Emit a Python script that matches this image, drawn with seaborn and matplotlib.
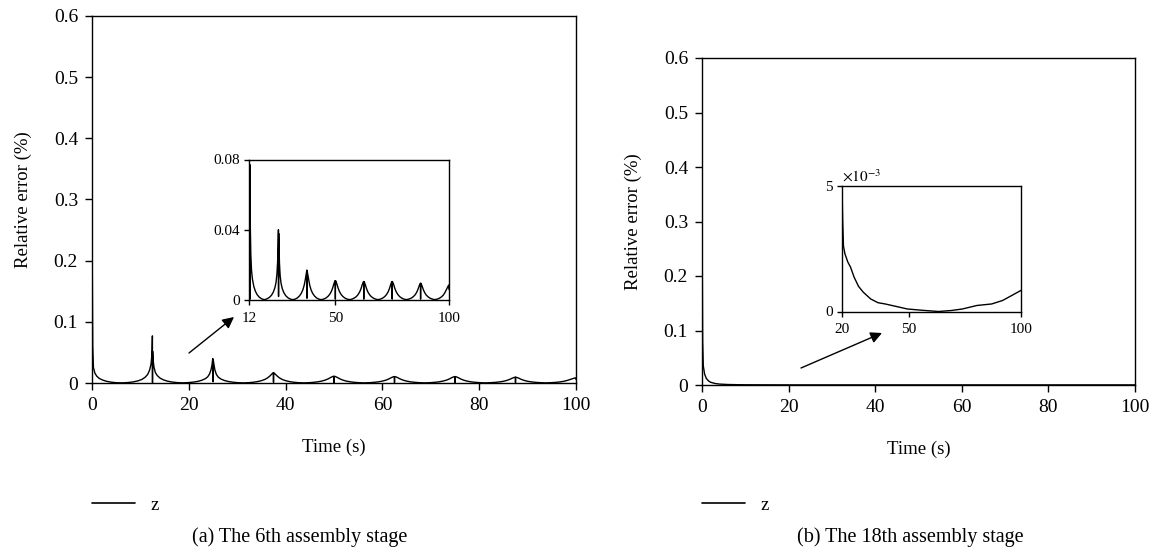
import matplotlib
matplotlib.use("Agg")
import matplotlib.pyplot as plt
import seaborn as sns
import pandas as pd

# ---- (a) 6th assembly stage: relative error of z over time ----
stage6_time = [
    0, 0.05, 0.15, 0.3, 0.6, 1.0, 1.5, 2.2, 3.0, 4.0, 5.0, 6.25, 7.5, 8.5, 9.5, 10.3, 11.0, 11.5, 11.9, 12.2, 12.4, 12.48,
    12.5, 12.52, 12.6, 12.8, 13.1, 13.5, 14.1, 14.8, 15.6, 16.6, 17.7, 18.75,
    19.8, 20.9, 21.9, 22.7, 23.4, 23.9, 24.3, 24.6, 24.8, 24.95,
    25.0, 25.05, 25.2, 25.4, 25.7, 26.1, 26.7, 27.4, 28.2, 29.2, 30.2, 31.25,
    32.3, 33.3, 34.2, 35.0, 35.7, 36.3, 36.8, 37.2, 37.45,
    37.5, 37.55, 37.8, 38.2, 38.7, 39.3, 40.0, 40.8, 41.7, 42.7, 43.75,
    44.8, 45.8, 46.7, 47.5, 48.2, 48.8, 49.3, 49.7, 49.95,
    50.0, 50.05, 50.3, 50.7, 51.2, 51.8, 52.5, 53.3, 54.2, 55.2, 56.25,
    57.3, 58.3, 59.2, 60.0, 60.7, 61.3, 61.8, 62.2, 62.45,
    62.5, 62.55, 62.8, 63.2, 63.7, 64.3, 65.0, 65.8, 66.7, 67.7, 68.75,
    69.8, 70.8, 71.7, 72.5, 73.2, 73.8, 74.3, 74.7, 74.95,
    75.0, 75.05, 75.3, 75.7, 76.2, 76.8, 77.5, 78.3, 79.2, 80.2, 81.25,
    82.3, 83.3, 84.2, 85.0, 85.7, 86.3, 86.8, 87.2, 87.45,
    87.5, 87.55, 87.8, 88.2, 88.7, 89.3, 90.0, 90.8, 91.7, 92.7, 93.75,
    94.8, 95.8, 96.7, 97.5, 98.2, 98.8, 99.3, 99.7, 99.85, 100.0,
]
stage6_error = [
    0.550, 0.200, 0.060, 0.025, 0.016, 0.011, 0.0075, 0.0048, 0.0028, 0.0013, 0.0005, 0.0002, 0.0008, 0.0018, 0.0035, 0.0058, 0.0095, 0.0140, 0.0210, 0.0310, 0.0480, 0.0770,
    0.0005, 0.0520, 0.0400, 0.0260, 0.0170, 0.0120, 0.0078, 0.0050, 0.0030, 0.0015, 0.0006, 0.0002,
    0.0006, 0.0014, 0.0027, 0.0045, 0.0070, 0.0100, 0.0150, 0.0220, 0.0300, 0.0400,
    0.0020, 0.0380, 0.0300, 0.0210, 0.0140, 0.0095, 0.0062, 0.0040, 0.0024, 0.0012, 0.0005, 0.0002,
    0.0005, 0.0012, 0.0023, 0.0038, 0.0058, 0.0085, 0.0118, 0.0150, 0.0170,
    0.0010, 0.0168, 0.0150, 0.0118, 0.0085, 0.0058, 0.0038, 0.0023, 0.0012, 0.0005, 0.0002,
    0.0005, 0.0011, 0.0020, 0.0032, 0.0048, 0.0068, 0.0090, 0.0105, 0.0110,
    0.0005, 0.0110, 0.0105, 0.0090, 0.0068, 0.0048, 0.0032, 0.0020, 0.0011, 0.0005, 0.0002,
    0.0005, 0.0011, 0.0019, 0.0031, 0.0046, 0.0065, 0.0086, 0.0100, 0.0105,
    0.0005, 0.0105, 0.0100, 0.0086, 0.0065, 0.0046, 0.0031, 0.0019, 0.0011, 0.0005, 0.0002,
    0.0005, 0.0011, 0.0019, 0.0031, 0.0046, 0.0065, 0.0086, 0.0100, 0.0105,
    0.0005, 0.0105, 0.0100, 0.0086, 0.0065, 0.0046, 0.0031, 0.0019, 0.0011, 0.0005, 0.0002,
    0.0005, 0.0010, 0.0018, 0.0028, 0.0042, 0.0059, 0.0078, 0.0090, 0.0095,
    0.0005, 0.0095, 0.0090, 0.0078, 0.0059, 0.0042, 0.0028, 0.0018, 0.0010, 0.0005, 0.0002,
    0.0005, 0.0010, 0.0018, 0.0028, 0.0042, 0.0058, 0.0072, 0.0082, 0.0085, 0.0060,
]

# ---- (b) 18th assembly stage: full run ----
stage18_time = [0, 0.05, 0.15, 0.3, 0.6, 1.0, 1.5, 2.0, 3.0, 4.0, 6.0, 8.0, 10.0, 15.0, 20.0,
                30.0, 40.0, 50.0, 60.0, 70.0, 80.0, 90.0, 100.0]
stage18_error = [0.550, 0.250, 0.080, 0.035, 0.020, 0.012, 0.0075, 0.0050, 0.0028, 0.0017, 0.0009, 0.0006,
                 0.0004, 0.0003, 0.0002, 0.0002, 0.0002, 0.0002, 0.0002, 0.0002, 0.0002, 0.0002, 0.0002]

# ---- (b) zoomed view of the late interval ----
stage18_zoom_time = [20.0, 20.3, 20.66, 21.3, 22.6, 23.8, 25.4, 27.4, 29.5, 32.8, 36.1, 39.3, 44.3, 49.2,
                     55.7, 63.1, 68.9, 73.8, 80.3, 86.9, 91.8, 95.9, 100.0]
stage18_zoom_error = [0.00496, 0.0036, 0.0026, 0.0023, 0.00197, 0.00177, 0.00137, 0.00100, 0.00077, 0.00050,
                      0.00035, 0.00030, 0.00020, 0.00010, 0.00005, 0.0, 0.00004, 0.00010, 0.00024, 0.00030,
                      0.00044, 0.00064, 0.00084]

main_yticks = [0, 0.1, 0.2, 0.3, 0.4, 0.5, 0.6]
main_yticklabels = ["0", "0.1", "0.2", "0.3", "0.4", "0.5", "0.6"]
main_xticks = [0, 20, 40, 60, 80, 100]

inset6_xticks = [12, 50, 100]
inset6_yticks = [0, 0.04, 0.08]
inset6_yticklabels = ["0", "0.04", "0.08"]

inset18_xticks = [20, 50, 100]
inset18_yticks = [0, 0.005]
inset18_yticklabels = ["0", "5"]

captions = ["(a) The 6th assembly stage", "(b) The 18th assembly stage"]
series_name = "z"

sns.set_theme(style="ticks")
plt.rcParams["font.family"] = ["Liberation Serif", "DejaVu Serif"]
plt.rcParams["mathtext.fontset"] = "stix"
plt.rcParams["axes.linewidth"] = 1.0
plt.rcParams["axes.edgecolor"] = "black"
plt.rcParams["xtick.color"] = "black"
plt.rcParams["ytick.color"] = "black"
plt.rcParams["text.color"] = "black"
plt.rcParams["axes.labelcolor"] = "black"

W, H = 1156, 550
fig = plt.figure(figsize=(W / 100, H / 100), dpi=100)


def px_rect(x0, y0, x1, y1):
    return [x0 / W, 1 - y1 / H, (x1 - x0) / W, (y1 - y0) / H]


df6 = pd.DataFrame({"Time (s)": stage6_time, "err": stage6_error, "series": series_name})
df18 = pd.DataFrame({"Time (s)": stage18_time, "err": stage18_error, "series": series_name})
df18z = pd.DataFrame({"Time (s)": stage18_zoom_time, "err": stage18_zoom_error})

TICK_FS = 14
LABEL_FS = 13.5
INSET_FS = 11
LEGEND_Y = 505  # pixel row of the legend entries


def style_main(ax, top_px, bottom_px):
    ax.set_xlim(0, 100)
    ax.set_ylim(0, 0.6)
    ax.set_xticks(main_xticks)
    ax.set_xticklabels([str(v) for v in main_xticks])
    ax.set_yticks(main_yticks)
    ax.set_yticklabels(main_yticklabels)
    ax.tick_params(direction="out", length=5, width=1.0, labelsize=TICK_FS, pad=5)
    ax.set_xlabel("Time (s)", fontsize=LABEL_FS, labelpad=18)
    ax.set_ylabel("Relative error (%)", fontsize=LABEL_FS, labelpad=16)
    for s in ax.spines.values():
        s.set_visible(True)
        s.set_linewidth(1.0)
    y_axes = (bottom_px - LEGEND_Y) / (bottom_px - top_px)
    leg = ax.legend(loc="center left", bbox_to_anchor=(0.0, y_axes), frameon=False,
                    fontsize=LABEL_FS, handlelength=2.3, handletextpad=0.8,
                    borderpad=0, borderaxespad=0)
    for h in leg.get_lines():
        h.set_linewidth(1.2)


def style_inset(ax):
    ax.tick_params(direction="out", length=3.5, width=1.0, labelsize=INSET_FS, pad=3)
    ax.xaxis.set_tick_params(pad=5)
    for s in ax.spines.values():
        s.set_visible(True)
        s.set_linewidth(1.0)
    ax.set_xlabel("")
    ax.set_ylabel("")
    if ax.get_legend() is not None:
        ax.get_legend().remove()


# Panel (a)
ax1 = fig.add_axes(px_rect(92, 16, 576, 383))
sns.lineplot(data=df6, x="Time (s)", y="err", hue="series", palette=["black"],
             linewidth=1.0, ax=ax1, estimator=None, sort=False)
style_main(ax1, 16, 383)

ins1 = fig.add_axes(px_rect(249, 159.5, 449, 300))
sel6 = df6[df6["Time (s)"] >= 12]
sns.lineplot(data=sel6, x="Time (s)", y="err", color="black", linewidth=1.0,
             ax=ins1, estimator=None, sort=False)
ins1.set_xlim(12, 100)
ins1.set_ylim(0, 0.08)
ins1.set_xticks(inset6_xticks)
ins1.set_xticklabels([str(v) for v in inset6_xticks])
ins1.set_yticks(inset6_yticks)
ins1.set_yticklabels(inset6_yticklabels)
style_inset(ins1)

ax1.annotate("", xy=(234, H - 317), xycoords="figure pixels",
             xytext=(189, H - 353), textcoords="figure pixels",
             arrowprops=dict(arrowstyle="-|>", color="black", lw=1.0, mutation_scale=17,
                             shrinkA=0, shrinkB=0))

# Panel (b)
ax2 = fig.add_axes(px_rect(702, 58, 1135, 385))
sns.lineplot(data=df18, x="Time (s)", y="err", hue="series", palette=["black"],
             linewidth=1.0, ax=ax2, estimator=None, sort=False)
style_main(ax2, 58, 385)

ins2 = fig.add_axes(px_rect(842, 186, 1021, 311.5))
sns.lineplot(data=df18z, x="Time (s)", y="err", color="black", linewidth=1.0,
             ax=ins2, estimator=None, sort=False)
ins2.set_xlim(20, 100)
ins2.set_ylim(0, 0.005)
ins2.set_xticks(inset18_xticks)
ins2.set_xticklabels([str(v) for v in inset18_xticks])
ins2.set_yticks(inset18_yticks)
ins2.set_yticklabels(inset18_yticklabels)
style_inset(ins2)
ins2.text(0.0, 1.01, r"$\times10^{-3}$", transform=ins2.transAxes, ha="left", va="bottom",
          fontsize=INSET_FS)

ax2.annotate("", xy=(882, H - 333), xycoords="figure pixels",
             xytext=(801, H - 368), textcoords="figure pixels",
             arrowprops=dict(arrowstyle="-|>", color="black", lw=1.0, mutation_scale=17,
                             shrinkA=0, shrinkB=0))

fig.text(300 / W, 1 - 537 / H, captions[0], ha="center", va="center", fontsize=14.5)
fig.text(910 / W, 1 - 537 / H, captions[1], ha="center", va="center", fontsize=14.5)

fig.savefig("out.png", dpi=100, facecolor="white")
